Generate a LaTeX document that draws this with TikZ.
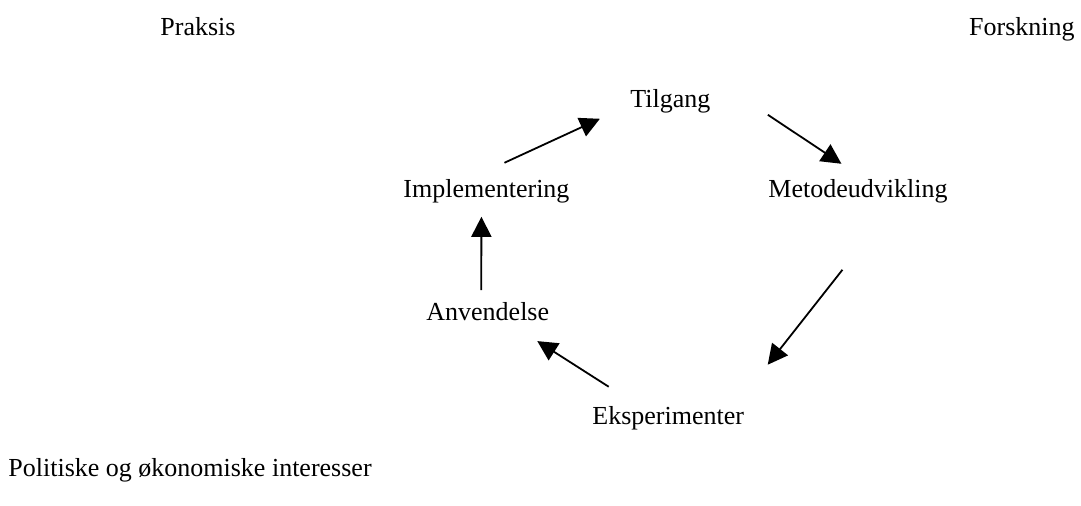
\documentclass[tikz,border=0pt]{standalone}
\usepackage{fontspec}
\setmainfont{Liberation Serif}
\usetikzlibrary{arrows.meta}
\begin{document}
\begin{tikzpicture}[x=0.5pt,y=-0.5pt,
    every node/.style={inner sep=0pt,font=\fontsize{13}{16}\selectfont},
    pil/.style={line width=0.9pt,-{Triangle[length=10pt,width=10pt]}}]
                \useasboundingbox (0,0) rectangle (1081,506);
                \node[anchor=base west] (praksis) at (160,36) {Praksis};
                \node[anchor=base east] (forsk) at (1075,36) {Forskning};
                \node[anchor=base west] (tilg) at (630,108) {Tilgang};
                \node[anchor=base west] (impl) at (403,198) {Implementering};
                \node[anchor=base west] (meto) at (768,198) {Metodeudvikling};
                \node[anchor=base west] (anve) at (426,321) {Anvendelse};
                \node[anchor=base west] (eksp) at (592,425) {Eksperimenter};
                \node[anchor=base west] (pol) at (8,477) {Politiske og økonomiske interesser};
                % kredsloebet
                \draw[pil] ([shift={(18,-29)}]impl.center) -- ([shift={(-70.5,17)}]tilg.center);
                \draw[pil] ([shift={(97.5,13)}]tilg.center) -- ([shift={(-16.5,-28)}]meto.center);
                \draw[pil] ([shift={(-15.5,78)}]meto.center) -- ([shift={(99.5,-54)}]eksp.center);
                \draw[pil] ([shift={(-59.5,-32)}]eksp.center) -- ([shift={(49.5,29)}]anve.center);
                \draw[pil] ([shift={(-6.5,-22)}]anve.center) -- ([shift={(-5,25)}]impl.center);
\end{tikzpicture}
\end{document}
